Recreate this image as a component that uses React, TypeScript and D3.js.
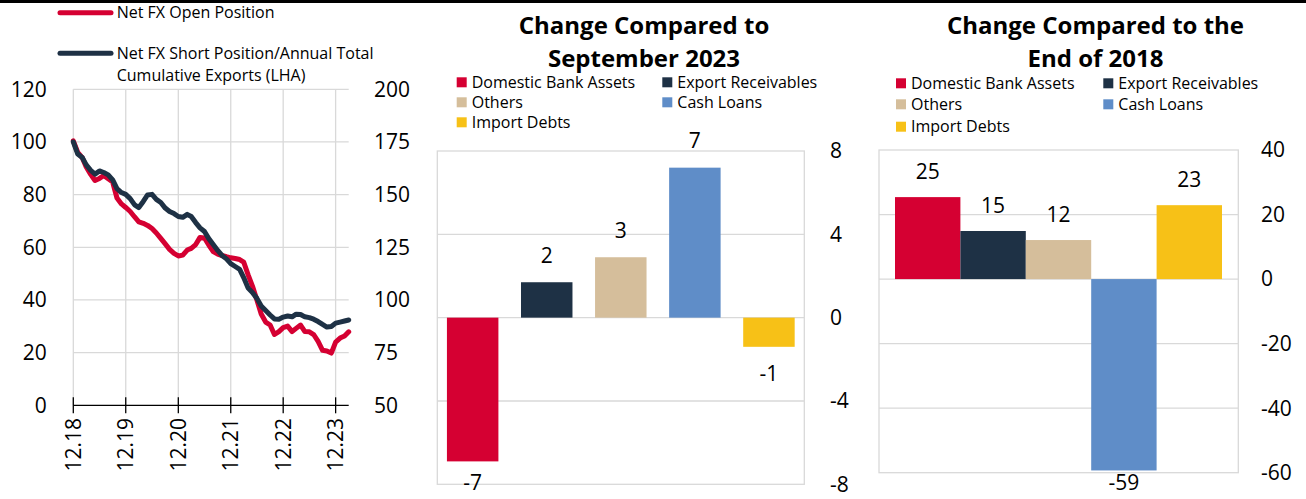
import React, { useEffect, useRef } from 'react';
import * as d3 from 'd3';

// Left panel: monthly series, Dec 2018 .. Mar 2024
const shortPosToExports = [
  100, 95.4, 94.1, 91.3, 89.2, 87.8, 89.0, 88.4, 87.5, 85.6, 82.3, 80.8,
  80.1, 78.5, 76.1, 75.1, 77.4, 79.9, 80.1, 78.2, 77.0, 74.9, 73.6, 72.8,
  71.7, 71.4, 72.5, 71.7, 69.4, 67.4, 66.0, 63.3, 61.1, 58.8, 56.9, 55.6,
  53.8, 52.7, 51.6, 48.5, 44.5, 42.8, 40.6, 37.7, 36.0, 34.3, 32.8, 32.7,
  33.5, 33.9, 33.6, 34.6, 34.5, 33.6, 33.3, 32.7, 31.8, 30.7, 29.7, 29.9,
  31.2, 31.6, 32.0, 32.4,
];
const netOpenPosition = [
  175.5, 170.0, 167.6, 163.1, 159.6, 156.7, 157.7, 159.1, 157.5, 156.0, 148.4, 145.6,
  143.9, 142.0, 139.4, 137.1, 136.4, 135.4, 133.9, 131.8, 129.2, 126.6, 124.0, 122.1,
  120.9, 121.3, 123.7, 124.5, 126.3, 129.7, 129.4, 126.1, 123.0, 121.8, 121.1, 120.5,
  120.0, 119.7, 119.2, 118.0, 111.9, 106.6, 100.0, 93.3, 89.5, 88.1, 83.6, 85.0,
  86.9, 87.6, 85.0, 86.5, 88.1, 85.0, 84.9, 83.6, 80.3, 76.1, 75.8, 74.8,
  80.0, 81.9, 82.9, 84.9,
];
const months = d3.timeMonth.range(new Date(2018, 11, 1), new Date(2024, 3, 1));
const yearTicks = [2018, 2019, 2020, 2021, 2022, 2023].map((y) => new Date(y, 11, 1));
const leftTicks = [0, 20, 40, 60, 80, 100, 120];
const rightTicks = [50, 75, 100, 125, 150, 175, 200];

// Bar panels
const categories = ['Domestic Bank Assets', 'Export Receivables', 'Others', 'Cash Loans', 'Import Debts'];
const colors = ['#d50032', '#1e3145', '#d5be9b', '#5f8dc8', '#f7c117'];
const changeSep2023 = [-6.9, 1.7, 2.9, 7.2, -1.4];
const changeEnd2018 = [25.4, 14.9, 12.1, -59.3, 22.9];
const sepTicks = [-8, -4, 0, 4, 8];
const endTicks = [-60, -40, -20, 0, 20, 40];

const FONT = "'Open Sans', sans-serif";
const GRID = '#d9d9d9';

export default function App() {
  const svgRef = useRef<SVGSVGElement>(null);

  useEffect(() => {
    if (!svgRef.current) return;
    const svg = d3.select(svgRef.current);
    svg.selectAll('*').remove();
    svg.style('font-family', FONT);

    // top rule
    svg.append('rect').attr('x', 0).attr('y', 0).attr('width', 1306).attr('height', 3).attr('fill', '#000');

    // ---------- left line chart ----------
    const x = d3.scaleTime().domain([months[0], months[months.length - 1]]).range([73.3, 348.7]);
    const yL = d3.scaleLinear().domain([0, 120]).range([405.3, 89.3]);
    const yR = d3.scaleLinear().domain([50, 200]).range([405.3, 89.3]);

    const g = svg.append('g');
    g.selectAll('.hgrid')
      .data(leftTicks.slice(1))
      .enter()
      .append('line')
      .attr('x1', 73.3)
      .attr('x2', 348.7)
      .attr('y1', (d) => yL(d))
      .attr('y2', (d) => yL(d))
      .attr('stroke', GRID)
      .attr('stroke-width', 1.3);
    g.selectAll('.vgrid')
      .data(yearTicks)
      .enter()
      .append('line')
      .attr('x1', (d) => x(d))
      .attr('x2', (d) => x(d))
      .attr('y1', yL(120))
      .attr('y2', yL(0))
      .attr('stroke', GRID)
      .attr('stroke-width', 1.3);

    // axis line + ticks
    g.append('line').attr('x1', 73.3).attr('x2', 348.7).attr('y1', yL(0)).attr('y2', yL(0)).attr('stroke', '#000').attr('stroke-width', 1.3);
    g.selectAll('.xtick')
      .data(yearTicks)
      .enter()
      .append('line')
      .attr('x1', (d) => x(d))
      .attr('x2', (d) => x(d))
      .attr('y1', yL(0) - 8)
      .attr('y2', yL(0) + 8)
      .attr('stroke', '#000')
      .attr('stroke-width', 1.3);
    g.selectAll('.xlabel')
      .data(yearTicks)
      .enter()
      .append('text')
      .attr('transform', (d) => `translate(${x(d)},418) rotate(-90)`)
      .attr('dy', '0.35em')
      .style('text-anchor', 'end')
      .style('font-size', '21px')
      .style('fill', '#000')
      .text((d) => d3.timeFormat('%m.%y')(d));

    g.selectAll('.ylabel')
      .data(leftTicks)
      .enter()
      .append('text')
      .attr('x', 46.7)
      .attr('y', (d) => yL(d))
      .attr('dy', '0.35em')
      .style('text-anchor', 'end')
      .style('font-size', '21px')
      .style('fill', '#000')
      .text((d) => d);
    g.selectAll('.rlabel')
      .data(rightTicks)
      .enter()
      .append('text')
      .attr('x', 374)
      .attr('y', (d) => yR(d))
      .attr('dy', '0.35em')
      .style('font-size', '21px')
      .style('fill', '#000')
      .text((d) => d);

    const lineL = d3.line<number>().x((_, i) => x(months[i])).y((d) => yL(d));
    const lineR = d3.line<number>().x((_, i) => x(months[i])).y((d) => yR(d));
    g.append('path')
      .attr('d', lineR(netOpenPosition))
      .attr('fill', 'none')
      .attr('stroke', colors[0])
      .attr('stroke-width', 5)
      .attr('stroke-linejoin', 'round')
      .attr('stroke-linecap', 'round');
    g.append('path')
      .attr('d', lineL(shortPosToExports))
      .attr('fill', 'none')
      .attr('stroke', colors[1])
      .attr('stroke-width', 5)
      .attr('stroke-linejoin', 'round')
      .attr('stroke-linecap', 'round');

    // line legend
    const lineLegend = [
      { color: colors[0], y: 12.7, lines: ['Net FX Open Position'] },
      { color: colors[1], y: 53.3, lines: ['Net FX Short Position/Annual Total', 'Cumulative Exports (LHA)'] },
    ];
    lineLegend.forEach((item) => {
      g.append('line')
        .attr('x1', 60)
        .attr('x2', 111)
        .attr('y1', item.y)
        .attr('y2', item.y)
        .attr('stroke', item.color)
        .attr('stroke-width', 5)
        .attr('stroke-linecap', 'round');
      item.lines.forEach((t, i) => {
        g.append('text')
          .attr('x', 116.7)
          .attr('y', item.y + i * 21.7)
          .attr('dy', '0.35em')
          .style('font-size', '16px')
          .style('fill', '#000')
          .text(t);
      });
    });

    // ---------- bar charts ----------
    const drawBars = (opts: {
      values: number[];
      ticks: number[];
      box: [number, number, number, number];
      barRange: [number, number];
      padInner: number;
      padOuter: number;
      labelX: number;
      title: string[];
      titleX: number;
      legendX: [number, number];
      legendY: number[];
      labelGap: number;
    }) => {
      const [x0, x1, y0, y1] = opts.box;
      const gb = svg.append('g');
      const y = d3
        .scaleLinear()
        .domain([opts.ticks[0], opts.ticks[opts.ticks.length - 1]])
        .range([y1, y0]);
      const xb = d3
        .scaleBand<string>()
        .domain(categories)
        .range(opts.barRange)
        .paddingInner(opts.padInner)
        .paddingOuter(opts.padOuter);

      gb.selectAll('.grid')
        .data(opts.ticks.slice(1, -1))
        .enter()
        .append('line')
        .attr('x1', x0)
        .attr('x2', x1)
        .attr('y1', (d) => y(d))
        .attr('y2', (d) => y(d))
        .attr('stroke', GRID)
        .attr('stroke-width', 1.3);
      gb.append('rect')
        .attr('x', x0)
        .attr('y', y0)
        .attr('width', x1 - x0)
        .attr('height', y1 - y0)
        .attr('fill', 'none')
        .attr('stroke', GRID)
        .attr('stroke-width', 1.3);

      gb.selectAll('.tick')
        .data(opts.ticks)
        .enter()
        .append('text')
        .attr('x', opts.labelX)
        .attr('y', (d) => y(d))
        .attr('dy', '0.35em')
        .style('font-size', '21px')
        .style('fill', '#000')
        .text((d) => d);

      gb.selectAll('.bar')
        .data(opts.values)
        .enter()
        .append('rect')
        .attr('x', (_, i) => xb(categories[i]) as number)
        .attr('width', xb.bandwidth())
        .attr('y', (d) => y(Math.max(0, d)))
        .attr('height', (d) => Math.abs(y(d) - y(0)))
        .attr('fill', (_, i) => colors[i]);

      gb.selectAll('.vlabel')
        .data(opts.values)
        .enter()
        .append('text')
        .attr('x', (_, i) => (xb(categories[i]) as number) + xb.bandwidth() / 2)
        .attr('y', (d) => (d >= 0 ? y(d) - opts.labelGap : Math.min(y(d) + opts.labelGap, 482.5)))
        .attr('dy', '0.35em')
        .style('text-anchor', 'middle')
        .style('font-size', '21px')
        .style('fill', '#000')
        .text((d) => Math.round(d));

      opts.title.forEach((t, i) => {
        gb.append('text')
          .attr('x', opts.titleX)
          .attr('y', 25.7 + i * 32.6)
          .attr('dy', '0.35em')
          .style('text-anchor', 'middle')
          .style('font-size', '24px')
          .style('font-weight', '700')
          .style('fill', '#000')
          .text(t);
      });

      categories.forEach((c, i) => {
        const lx = opts.legendX[i % 2];
        const ly = opts.legendY[Math.floor(i / 2)];
        gb.append('rect').attr('x', lx).attr('y', ly - 5).attr('width', 10).attr('height', 10).attr('fill', colors[i]);
        gb.append('text')
          .attr('x', lx + 15)
          .attr('y', ly)
          .attr('dy', '0.35em')
          .style('font-size', '16px')
          .style('fill', '#000')
          .text(c);
      });
    };

    drawBars({
      values: changeSep2023,
      ticks: sepTicks,
      box: [437.3, 804.3, 151, 484.3],
      barRange: [437.3, 804.3],
      padInner: 0.305,
      padOuter: 0.13,
      labelX: 830,
      title: ['Change Compared to', 'September 2023'],
      titleX: 644,
      legendX: [456.7, 662.3],
      legendY: [82.3, 102.3, 122.3],
      labelGap: 27,
    });
    drawBars({
      values: changeEnd2018,
      ticks: endTicks,
      box: [879, 1238.3, 150, 472.7],
      barRange: [895, 1222],
      padInner: 0,
      padOuter: 0,
      labelX: 1261,
      title: ['Change Compared to the', 'End of 2018'],
      titleX: 1095.5,
      legendX: [896, 1103.3],
      legendY: [83.3, 104.3, 126.7],
      labelGap: 25.5,
    });
  }, []);

  return (
    <svg
      ref={svgRef}
      width={1306}
      height={499}
      style={{ position: 'absolute', left: 0, top: 0, background: '#fff' }}
    />
  );
}
